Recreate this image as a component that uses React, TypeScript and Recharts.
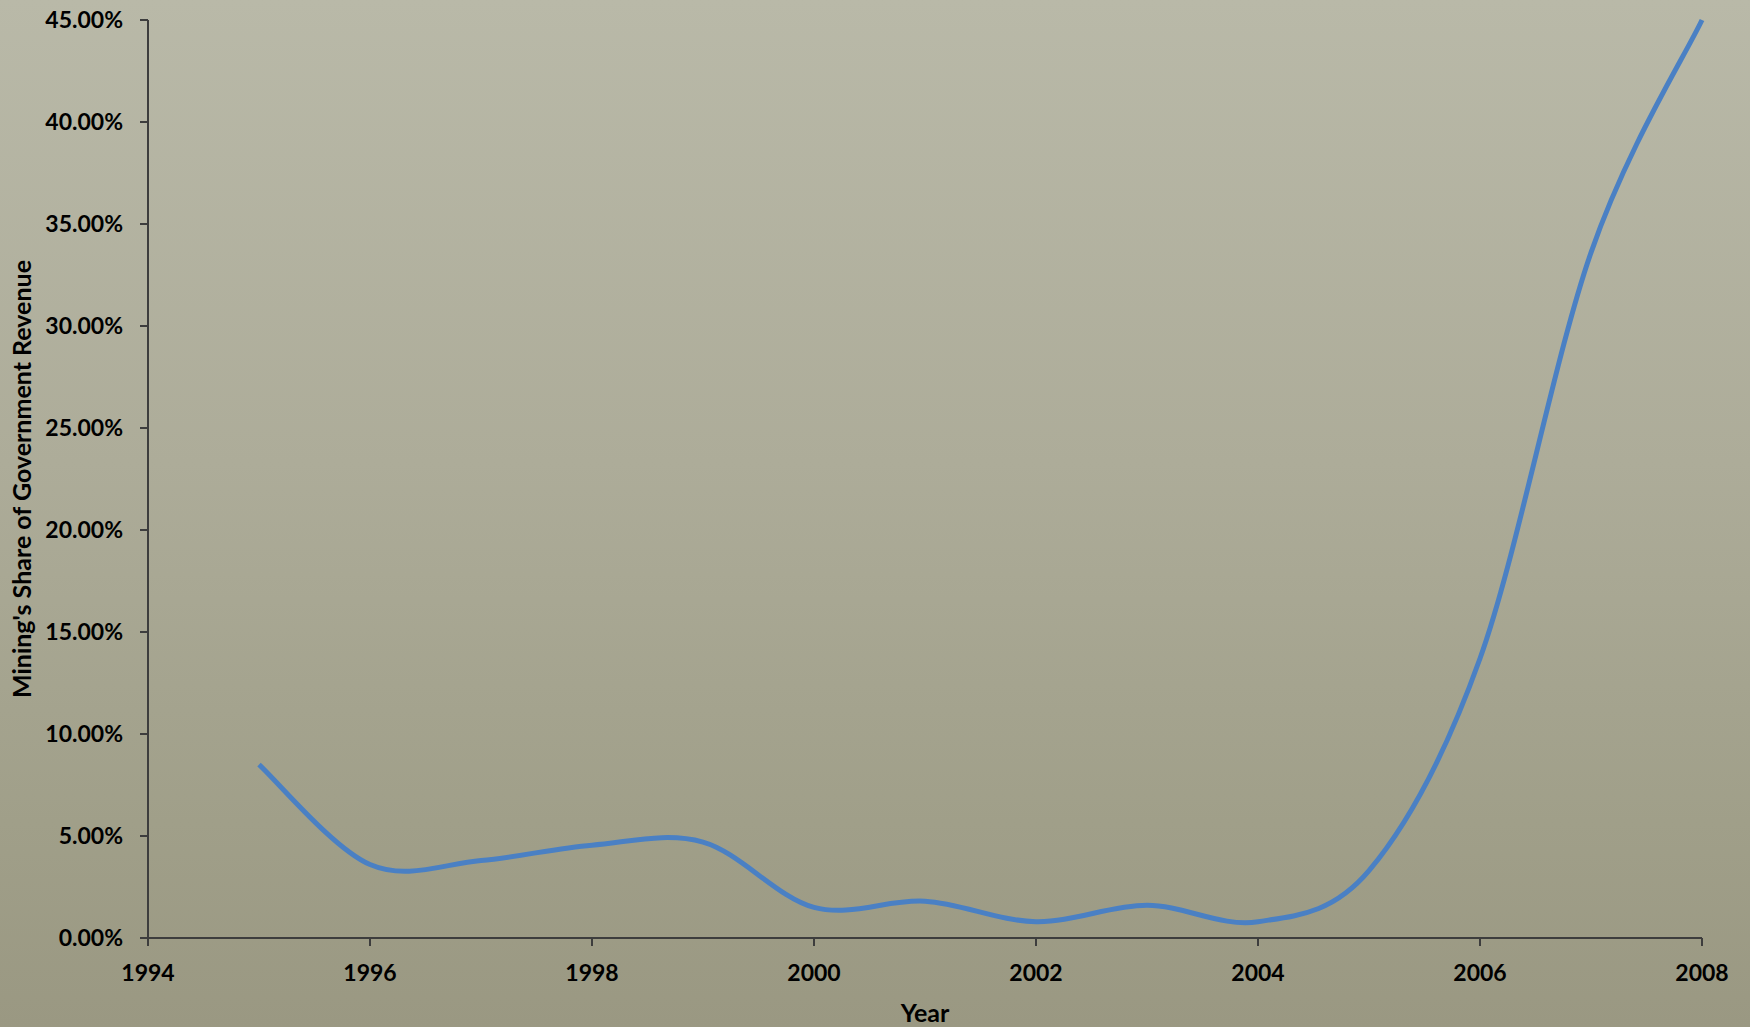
import { LineChart, Line, XAxis, YAxis } from 'recharts';

interface Point {
    year: number;
    share: number;
}

// mining revenue as a percent of total government revenue
const years: number[] = [1995, 1996, 1997, 1998, 1999, 2000, 2001, 2002, 2003, 2004, 2005, 2006, 2007, 2008];
const shares: number[] = [8.5, 3.6, 3.8, 4.55, 4.7, 1.5, 1.8, 0.8, 1.6, 0.8, 3.3, 13.7, 33.6, 45.0];

const yearTicks: number[] = [1994, 1996, 1998, 2000, 2002, 2004, 2006, 2008];
const shareTicks: number[] = [0, 5, 10, 15, 20, 25, 30, 35, 40, 45];

const data: Point[] = years.map((year, i) => ({ year, share: shares[i] }));

const FONT = 'Lato, "Open Sans", sans-serif';
const AXIS = '#3d3d3d';

// spreadsheet-style smoothed line: bezier handles at 1/6 of the neighbour chord
const smoothCurve = (ctx: any) => {
    let pts: number[][] = [];
    return {
        areaStart() {},
        areaEnd() {},
        lineStart() {
            pts = [];
        },
        point(x: number, y: number) {
            pts.push([+x, +y]);
        },
        lineEnd() {
            if (!pts.length) return;
            ctx.moveTo(pts[0][0], pts[0][1]);
            for (let i = 0; i < pts.length - 1; i++) {
                const p0 = pts[Math.max(i - 1, 0)];
                const p1 = pts[i];
                const p2 = pts[i + 1];
                const p3 = pts[Math.min(i + 2, pts.length - 1)];
                ctx.bezierCurveTo(
                    p1[0] + (p2[0] - p0[0]) / 6,
                    p1[1] + (p2[1] - p0[1]) / 6,
                    p2[0] - (p3[0] - p1[0]) / 6,
                    p2[1] - (p3[1] - p1[1]) / 6,
                    p2[0],
                    p2[1],
                );
            }
        },
    };
};

const tickStyle = { fill: '#000', fontSize: 23, fontWeight: 700, fontFamily: FONT };
const titleStyle = { fontSize: 25, fontWeight: 700, fontFamily: FONT, fill: '#000' };

const YTitle = (props: any) => {
    const vb = props.viewBox;
    const cx = vb.x + 21;
    const cy = vb.y + vb.height / 2;
    return (
        <text
            x={cx}
            y={cy}
            transform={`rotate(-90 ${cx} ${cy})`}
            textAnchor="middle"
            dominantBaseline="central"
            style={titleStyle}
        >
            Mining's Share of Government Revenue
        </text>
    );
};

const XTitle = (props: any) => {
    const vb = props.viewBox;
    return (
        <text x={vb.x + vb.width / 2} y={vb.y + 84} textAnchor="middle" style={titleStyle}>
            Year
        </text>
    );
};

const App: React.FC = () => (
    <div
        style={{
            position: 'fixed',
            left: 0,
            top: 0,
            width: 1750,
            height: 1027,
            background: 'linear-gradient(180deg, #b9b9a8 0%, #adac99 45%, #a09f89 80%, #9a9882 100%)',
        }}
    >
        <LineChart width={1750} height={1027} data={data} margin={{ top: 20, right: 48, bottom: 0, left: 0 }}>
            <XAxis
                dataKey="year"
                type="number"
                domain={[1994, 2008]}
                ticks={yearTicks}
                height={89}
                stroke={AXIS}
                strokeWidth={2}
                tickSize={8}
                tickMargin={19}
                tick={tickStyle}
                label={{ content: XTitle }}
            />
            <YAxis
                type="number"
                domain={[0, 45]}
                ticks={shareTicks}
                width={148}
                stroke={AXIS}
                strokeWidth={2}
                tickSize={8}
                tickMargin={17}
                tick={tickStyle}
                tickFormatter={(v: number) => `${v.toFixed(2)}%`}
                label={{ content: YTitle }}
            />
            <Line
                type={smoothCurve as any}
                dataKey="share"
                stroke="#4a80c4"
                strokeWidth={5}
                dot={false}
                isAnimationActive={false}
            />
        </LineChart>
    </div>
);

export default App;
